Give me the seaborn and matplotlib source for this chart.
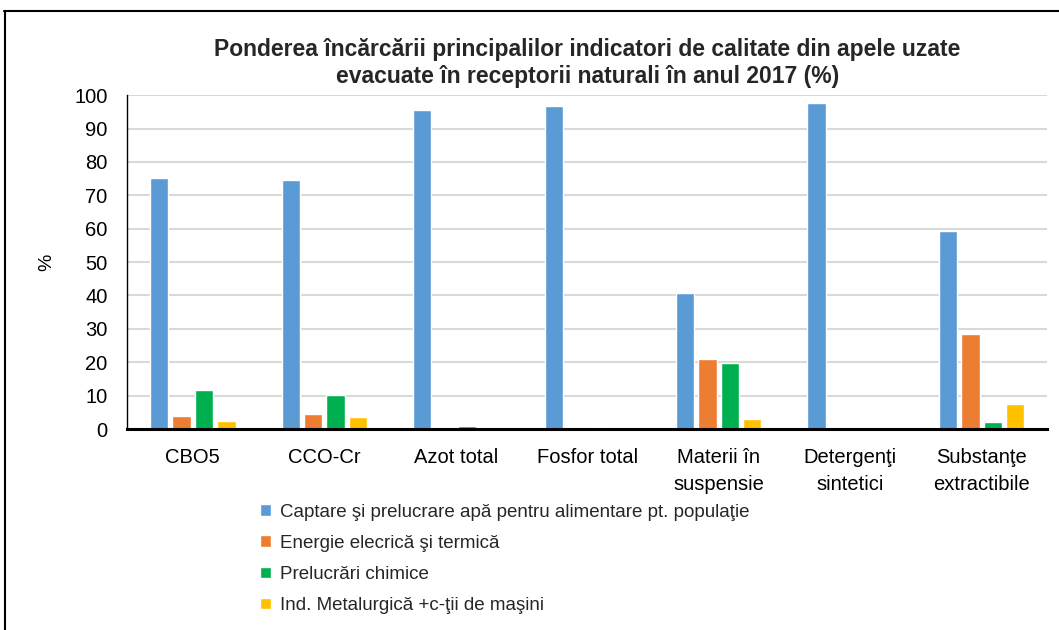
import pandas as pd
import matplotlib.pyplot as plt
import seaborn as sns
from matplotlib.lines import Line2D

# Date (%)
indicatori = ["CBO5", "CCO-Cr", "Azot total", "Fosfor total",
              "Materii în\nsuspensie", "Detergenţi\nsintetici", "Substanţe\nextractibile"]
sectoare = ["Captare şi prelucrare apă pentru alimentare pt. populaţie",
            "Energie elecrică şi termică",
            "Prelucrări chimice",
            "Ind. Metalurgică +c-ţii de maşini"]
captare = [75.1, 74.6, 95.5, 96.7, 40.7, 97.6, 59.3]
energie = [3.9, 4.5, 0.4, 0.4, 21.0, 0.4, 28.4]
chimice = [11.7, 10.2, 1.0, 0.7, 19.8, 0.4, 2.1]
metalurgie = [2.4, 3.6, 0.4, 0.3, 3.0, 0.3, 7.5]
culori = ["#5B9BD5", "#ED7D31", "#00B050", "#FFC000"]

df = pd.DataFrame({
    "Indicator": indicatori * 4,
    "Sector": [s for s in sectoare for _ in indicatori],
    "Valoare": captare + energie + chimice + metalurgie,
})

sns.set_theme(style="white")
plt.rcParams['font.family'] = ['Liberation Sans', 'DejaVu Sans']

fig = plt.figure(figsize=(10.59, 6.3), dpi=100)
ax = fig.add_axes([0.120, 0.319, 0.869, 0.530])

sns.barplot(data=df, x="Indicator", y="Valoare", hue="Sector",
            palette=culori, width=0.68, gap=0.18, saturation=1, ax=ax)

ax.set_ylim(0, 100)
ax.set_yticks(range(0, 101, 10))
ax.yaxis.grid(True, color="#D9D9D9", linewidth=1.5)
ax.set_axisbelow(True)
ax.set_xlabel("")
ax.set_ylabel("%", fontsize=14, labelpad=14, color="black")
ax.tick_params(axis="both", labelsize=14.5, colors="black", length=0)
ax.tick_params(axis="y", pad=14)
ax.tick_params(axis="x", pad=14)
for lbl in ax.get_xticklabels():
    lbl.set_linespacing(1.5)

for s in ["top", "right"]:
    ax.spines[s].set_visible(False)
ax.spines["left"].set_color("black")
ax.spines["left"].set_linewidth(1.0)
ax.spines["bottom"].set_color("black")
ax.spines["bottom"].set_linewidth(2.2)

ax.set_title("Ponderea încărcării principalilor indicatori de calitate din apele uzate\n"
             "evacuate în receptorii naturali în anul 2017 (%)",
             fontsize=16.5, fontweight="bold", pad=9, linespacing=1.2)

handles, labels = ax.get_legend_handles_labels()
ax.get_legend().remove()
fig.legend(handles, labels, loc="upper left", bbox_to_anchor=(0.238, 0.212),
           frameon=False, fontsize=13.5, handlelength=0.6, handleheight=0.6,
           handletextpad=0.5, labelspacing=0.75, borderaxespad=0)

# chenarul figurii (sus si stanga)
fig.add_artist(Line2D([0.004, 1.0], [0.982, 0.982], color="black", linewidth=1.5,
                      transform=fig.transFigure))
fig.add_artist(Line2D([0.005, 0.005], [0.0, 0.982], color="black", linewidth=1.5,
                      transform=fig.transFigure))

fig.savefig("out.png", dpi=100)
